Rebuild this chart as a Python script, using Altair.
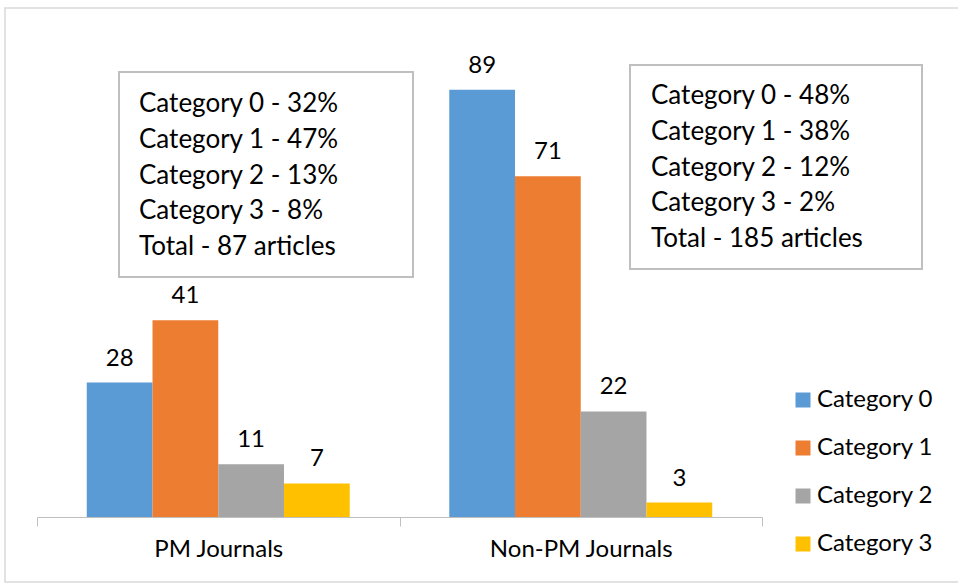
import altair as alt
import pandas as pd

groups = ["PM Journals", "Non-PM Journals"]
cats = ["Category 0", "Category 1", "Category 2", "Category 3"]
pm_vals = [28, 41, 11, 7]
nonpm_vals = [89, 71, 22, 3]
colors = ["#5B9BD5", "#ED7D31", "#A5A5A5", "#FFC000"]

left_box_lines = ["Category 0 - 32%", "Category 1 - 47%", "Category 2 - 13%",
                  "Category 3 - 8%", "Total - 87 articles"]
right_box_lines = ["Category 0 - 48%", "Category 1 - 38%", "Category 2 - 12%",
                   "Category 3 - 2%", "Total - 185 articles"]

FONT = "Lato"
FS = 24
OX, OY = 37, 37  # plot origin (padding)

rows = []
for g, vals in zip(groups, [pm_vals, nonpm_vals]):
    for c, v in zip(cats, vals):
        rows.append({"group": g, "cat": c, "value": v})
df = pd.DataFrame(rows)

x = alt.X("group:N", sort=groups,
          scale=alt.Scale(paddingInner=0, paddingOuter=0),
          axis=alt.Axis(title=None, domainColor="#bfbfbf", tickColor="#bfbfbf",
                        tickBand="extent", tickSize=9, labelFontSize=FS,
                        labelPadding=11, labelAngle=0, labelColor="black",
                        labelFont=FONT, labelLimit=0))
xo = alt.XOffset("cat:N", sort=cats,
                 scale=alt.Scale(paddingInner=0, paddingOuter=0.757))
y = alt.Y("value:Q", scale=alt.Scale(domain=[0, 100]), axis=None)

bars = alt.Chart(df).mark_bar().encode(
    x=x, xOffset=xo, y=y,
    color=alt.Color("cat:N", sort=cats, scale=alt.Scale(domain=cats, range=colors),
                    legend=alt.Legend(orient="none", legendX=754, legendY=351,
                                      title=None, symbolType="square",
                                      symbolSize=225, symbolStrokeWidth=0,
                                      labelFontSize=FS, labelFont=FONT,
                                      labelColor="black", labelOffset=2,
                                      rowPadding=24, labelLimit=0)),
)
labels = alt.Chart(df).mark_text(fontSize=FS, font=FONT, color="black",
                                 baseline="alphabetic", dy=-17).encode(
    x=x, xOffset=xo, y=y, text="value:Q")

one = alt.Data(values=[{}])
border = alt.Chart(one).mark_rect(fill=None, stroke="#d9d9d9", strokeWidth=1.5).encode(
    x=alt.value(5 - OX), x2=alt.value(960 - OX),
    y=alt.value(8 - OY), y2=alt.value(582 - OY))

def box(x0, y0, x1, y1, lines, tx, ty0):
    r = alt.Chart(one).mark_rect(fill="white", stroke="#bfbfbf", strokeWidth=2).encode(
        x=alt.value(x0 - OX), x2=alt.value(x1 - OX),
        y=alt.value(y0 - OY), y2=alt.value(y1 - OY))
    tdf = pd.DataFrame({"line": lines, "i": list(range(len(lines)))})
    t = alt.Chart(tdf).mark_text(fontSize=26, font=FONT, color="black",
                                 align="left", baseline="middle").transform_calculate(
        py=f"{ty0 - OY} + 35.8 * datum.i").encode(
        x=alt.value(tx - OX), y=alt.Y("py:Q", scale=None), text="line:N")
    return r + t

left_box = box(119, 72, 413, 277, left_box_lines, 139, 104)
right_box = box(630, 65, 922, 269, right_box_lines, 651, 96)

chart = alt.layer(border, bars, labels, left_box, right_box).properties(
    width=725, height=480,
    padding={"left": OX, "top": OY, "right": 958 - OX - 725, "bottom": 584 - OY - 480},
    autosize=alt.AutoSizeParams(type="none"),
    background="white",
).configure_view(stroke=None)

chart.save("out.html", embed_options={"renderer": "svg", "actions": False})
